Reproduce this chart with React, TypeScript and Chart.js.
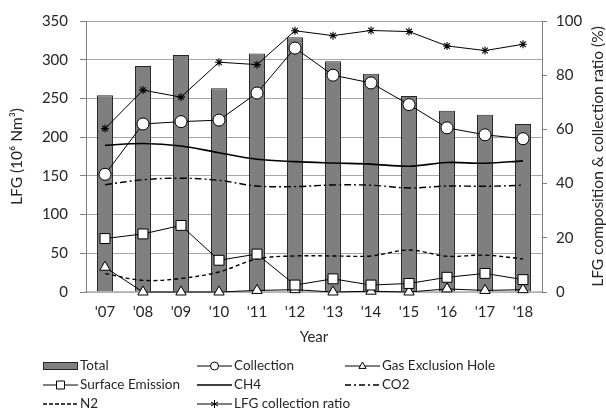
import { useEffect, useRef } from 'react';
import { Chart, registerables } from 'chart.js';

Chart.register(...registerables);

const years = ["'07", "'08", "'09", "'10", "'11", "'12", "'13", "'14", "'15", "'16", "'17", "'18"];
const total = [254, 292, 306, 263, 308, 329, 298, 282, 253, 234, 229, 217];
const collection = [152, 217, 220, 222, 257, 315, 280, 270, 242, 212, 203, 198];
const surfaceEmission = [69, 75, 86, 41, 49, 9, 17, 9, 11, 19, 24, 16];
const gasExclusionHole = [32, 0, 0, 0, 2, 3, 0, 1, 0, 4, 2, 3];
const ch4 = [54.1, 54.8, 53.9, 51.4, 49.0, 48.1, 47.6, 47.2, 46.4, 47.8, 47.5, 48.4];
const co2 = [39.6, 41.4, 42.0, 41.2, 39.1, 38.9, 39.5, 39.4, 38.4, 39.1, 39.0, 39.4];
const n2 = [6.8, 4.3, 5.0, 7.4, 12.2, 13.3, 13.3, 13.3, 15.5, 13.2, 13.6, 12.2];
const collectionRatio = [60.3, 74.5, 71.9, 84.8, 83.9, 96.4, 94.6, 96.5, 96.1, 90.8, 89.1, 91.4];
const leftTicks = [0, 50, 100, 150, 200, 250, 300, 350];
const rightTicks = [0, 20, 40, 60, 80, 100];

const FONT = 'Lato';
const TEXT = '#262626';
const LINE = '#000000';
const TICK_SIZE = 15;
const TITLE_SIZE = 15.5;

type LegendItem = { label: string; kind: 'bar' | 'line'; point?: string; dash?: number[]; width?: number };
const legendItems: LegendItem[] = [
  { label: 'Total', kind: 'bar' },
  { label: 'Collection', kind: 'line', point: 'circle' },
  { label: 'Gas Exclusion Hole', kind: 'line', point: 'triangle' },
  { label: 'Surface Emission', kind: 'line', point: 'rect' },
  { label: 'CH4', kind: 'line', width: 1.5 },
  { label: 'CO2', kind: 'line', dash: [6, 3, 2, 3], width: 1.5 },
  { label: 'N2', kind: 'line', dash: [4, 2], width: 1.5 },
  { label: 'LFG collection ratio', kind: 'line', point: 'star' },
];

function drawMarker(ctx: CanvasRenderingContext2D, kind: string, x: number, y: number, r: number) {
  ctx.save();
  ctx.setLineDash([]);
  ctx.lineWidth = 1;
  ctx.strokeStyle = LINE;
  ctx.fillStyle = '#ffffff';
  ctx.beginPath();
  if (kind === 'circle') {
    ctx.arc(x, y, r, 0, Math.PI * 2);
    ctx.fill();
    ctx.stroke();
  } else if (kind === 'rect') {
    ctx.rect(x - r, y - r, 2 * r, 2 * r);
    ctx.fill();
    ctx.stroke();
  } else if (kind === 'triangle') {
    ctx.moveTo(x, y - r);
    ctx.lineTo(x + r * 0.9, y + r * 0.6);
    ctx.lineTo(x - r * 0.9, y + r * 0.6);
    ctx.closePath();
    ctx.fill();
    ctx.stroke();
  } else if (kind === 'star') {
    for (let a = 0; a < 3; a++) {
      const ang = (a * Math.PI) / 3;
      ctx.moveTo(x + Math.sin(ang) * r, y - Math.cos(ang) * r);
      ctx.lineTo(x - Math.sin(ang) * r, y + Math.cos(ang) * r);
    }
    ctx.stroke();
  }
  ctx.restore();
}

const customPlugin = {
  id: 'customLegendAndTitle',
  afterDraw(chart: any) {
    const ctx: CanvasRenderingContext2D = chart.ctx;
    const colX = [43, 197, 345];
    const rowY = [366, 385, 404];
    const symW = 35;
    ctx.save();
    ctx.font = `13.5px ${FONT}`;
    ctx.textBaseline = 'middle';
    ctx.textAlign = 'left';
    legendItems.forEach((it, i) => {
      const cx = colX[i % 3];
      const cy = rowY[Math.floor(i / 3)];
      if (it.kind === 'bar') {
        ctx.fillStyle = '#7f7f7f';
        ctx.strokeStyle = '#262626';
        ctx.lineWidth = 1;
        ctx.fillRect(cx, cy - 3.5, symW, 7);
        ctx.strokeRect(cx + 0.5, cy - 3.5, symW - 1, 7);
      } else {
        ctx.strokeStyle = LINE;
        ctx.lineWidth = it.width || 1;
        ctx.setLineDash(it.dash || []);
        ctx.beginPath();
        ctx.moveTo(cx, cy);
        ctx.lineTo(cx + symW, cy);
        ctx.stroke();
        ctx.setLineDash([]);
        if (it.point) drawMarker(ctx, it.point, cx + symW / 2, cy, 4);
      }
      ctx.fillStyle = TEXT;
      ctx.fillText(it.label, cx + symW + 2, cy);
    });
    // right axis title (reads bottom to top)
    const area = chart.chartArea;
    ctx.translate(598, (area.top + area.bottom) / 2);
    ctx.rotate(-Math.PI / 2);
    ctx.textAlign = 'center';
    ctx.font = `${TITLE_SIZE}px ${FONT}`;
    ctx.fillStyle = TEXT;
    ctx.fillText('LFG composition & collection ratio (%)', 0, 0);
    ctx.restore();
  },
};

export default function App() {
  const ref = useRef<HTMLCanvasElement | null>(null);
  useEffect(() => {
    if (!ref.current) return;
    Chart.defaults.font.family = FONT;
    Chart.defaults.font.size = TICK_SIZE;
    Chart.defaults.color = TEXT;
    const lineBase = { type: 'line' as const, yAxisID: 'y', clip: false as any, order: 0, fill: false, tension: 0, borderColor: LINE, borderWidth: 1, pointBackgroundColor: '#ffffff', pointBorderColor: LINE, pointBorderWidth: 1 };
    const chart = new Chart(ref.current, {
      type: 'bar',
      data: {
        labels: years,
        datasets: [
          { ...lineBase, label: 'LFG collection ratio', data: collectionRatio, yAxisID: 'y1', pointStyle: 'star', pointRadius: 4, pointBorderWidth: 1.1 },
          { ...lineBase, label: 'Collection', data: collection, pointStyle: 'circle', pointRadius: 6 },
          { ...lineBase, label: 'Surface Emission', data: surfaceEmission, pointStyle: 'rect', pointRadius: 7 },
          { ...lineBase, label: 'Gas Exclusion Hole', data: gasExclusionHole, pointStyle: 'triangle', pointRadius: 6 },
          { ...lineBase, label: 'CH4', data: ch4, yAxisID: 'y1', pointRadius: 0, borderWidth: 1.6, tension: 0.35 },
          { ...lineBase, label: 'CO2', data: co2, yAxisID: 'y1', pointRadius: 0, borderWidth: 1.4, borderDash: [7, 3, 2, 3], tension: 0.35 },
          { ...lineBase, label: 'N2', data: n2, yAxisID: 'y1', pointRadius: 0, borderWidth: 1.4, borderDash: [4, 3], tension: 0.35 },
          { type: 'bar' as const, label: 'Total', data: total, yAxisID: 'y', order: 1, backgroundColor: '#7f7f7f', borderColor: '#262626', borderWidth: 1, barPercentage: 0.42, categoryPercentage: 1 },
        ] as any,
      },
      options: {
        animation: false,
        responsive: true,
        maintainAspectRatio: false,
        layout: { padding: { top: 16, left: 0, right: 0, bottom: 68.5 } },
        plugins: { legend: { display: false }, tooltip: { enabled: false } },
        scales: {
          x: {
            type: 'category',
            offset: true,
            grid: { display: false, drawTicks: false },
            border: { display: true, color: '#bfbfbf', width: 1.5 },
            ticks: { padding: 11, font: { size: TICK_SIZE }, color: TEXT },
            title: { display: true, text: 'Year', font: { size: TICK_SIZE }, color: TEXT, padding: 0 },
            afterFit: (s: any) => { s.height = 54.5; },
          },
          y: {
            type: 'linear',
            position: 'left',
            min: 0,
            max: 350,
            afterBuildTicks: (s: any) => { s.ticks = leftTicks.map((v) => ({ value: v })); },
            grid: { color: '#a6a6a6', tickColor: '#7f7f7f', tickLength: 6, lineWidth: 1 },
            border: { display: true, color: '#7f7f7f' },
            ticks: { padding: 12, font: { size: TICK_SIZE }, color: TEXT },
            title: { display: true, text: 'LFG (10⁶ Nm³)', font: { size: TITLE_SIZE }, color: TEXT, padding: { top: 8, bottom: 0 } },
            afterFit: (s: any) => { s.width = 86; },
          },
          y1: {
            type: 'linear',
            position: 'right',
            min: 0,
            max: 100,
            afterBuildTicks: (s: any) => { s.ticks = rightTicks.map((v) => ({ value: v })); },
            grid: { drawOnChartArea: false, tickColor: '#7f7f7f', tickLength: 5 },
            border: { display: true, color: '#7f7f7f' },
            ticks: { padding: 9, font: { size: TICK_SIZE }, color: TEXT },
            afterFit: (s: any) => { s.width = 64; },
          },
        },
      },
      plugins: [customPlugin],
    });
    return () => chart.destroy();
  }, []);
  return (
    <div style={{ position: 'absolute', left: 0, top: 0, width: 606, height: 415, background: '#ffffff' }}>
      <canvas ref={ref} />
    </div>
  );
}
